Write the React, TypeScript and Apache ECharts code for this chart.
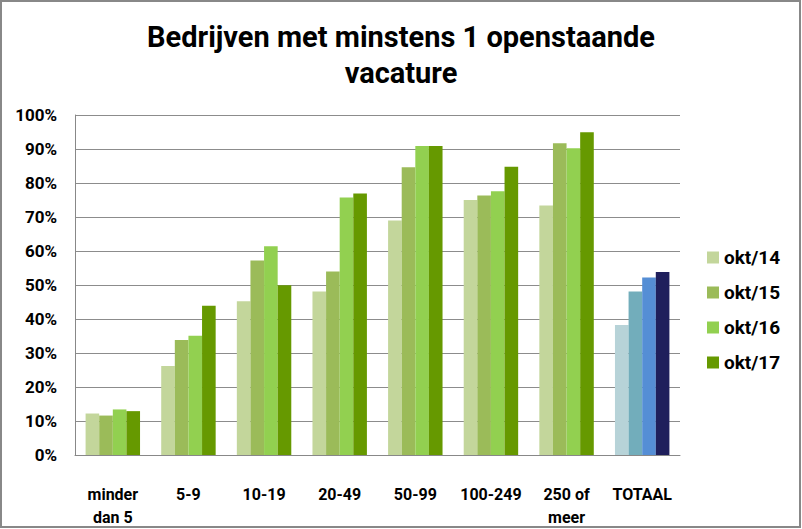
import React, { useEffect, useRef } from "react";
import * as echarts from "echarts";

const categories = ["minder\ndan 5", "5-9", "10-19", "20-49", "50-99", "100-249", "250 of\nmeer", "TOTAAL"];
const seriesNames = ["okt/14", "okt/15", "okt/16", "okt/17"];
const okt14 = [12.2, 26.2, 45.2, 48.1, 69.0, 75.0, 73.4, 38.2];
const okt15 = [11.6, 33.8, 57.2, 54.0, 84.6, 76.3, 91.7, 48.1];
const okt16 = [13.4, 35.1, 61.4, 75.7, 90.9, 77.6, 90.2, 52.2];
const okt17 = [12.9, 43.9, 49.9, 76.9, 90.9, 84.8, 94.9, 53.8];
const greenColors = ["#c3d69b", "#9bbb59", "#92d050", "#669900"];
const totalColors = ["#b7d3d8", "#72adbb", "#558ed5", "#1f1f5c"];
const yTicks = [0, 10, 20, 30, 40, 50, 60, 70, 80, 90, 100];

const FONT = "'Roboto', sans-serif";

export default function App() {
  const ref = useRef<HTMLDivElement>(null);
  useEffect(() => {
    if (!ref.current) return;
    const chart = echarts.init(ref.current, null, { renderer: "svg" });
    const all = [okt14, okt15, okt16, okt17];
    chart.setOption({
      animation: false,
      backgroundColor: "#ffffff",
      title: {
        text: "Bedrijven met minstens 1 openstaande\nvacature",
        left: "center",
        top: 14,
        textStyle: { fontFamily: FONT, fontSize: 29, fontWeight: "bold", color: "#000", lineHeight: 36 },
      },
      graphic: [
        {
          type: "rect",
          shape: { x: 1, y: 1, width: 799, height: 526 },
          style: { fill: "none", stroke: "#888888", lineWidth: 2 },
          silent: true,
        },
      ],
      legend: {
        orient: "vertical",
        left: 702,
        top: 243,
        itemGap: 16,
        itemWidth: 12,
        itemHeight: 12,
        icon: "rect",
        data: seriesNames,
        textStyle: { fontFamily: FONT, fontSize: 19, fontWeight: "bold", color: "#000" },
      },
      grid: { left: 75, right: 122, top: 115, bottom: 73, containLabel: false },
      xAxis: {
        type: "category",
        data: categories,
        axisLine: { show: true, lineStyle: { color: "#888888" } },
        axisTick: { show: false },
        axisLabel: {
          interval: 0,
          margin: 28,
          fontFamily: FONT,
          fontSize: 16,
          fontWeight: "bold",
          color: "#000",
          lineHeight: 23,
          verticalAlign: "top",
        },
      },
      yAxis: {
        type: "value",
        min: 0,
        max: 100,
        interval: 10,
        axisLine: { show: true, lineStyle: { color: "#888888" } },
        axisTick: { show: false },
        splitLine: { show: true, lineStyle: { color: "#8c8c8c", width: 1 } },
        axisLabel: {
          margin: 18,
          formatter: (v: number) => (yTicks.includes(v) ? v + "%" : ""),
          fontFamily: FONT,
          fontSize: 17,
          fontWeight: "bold",
          color: "#000",
        },
      },
      series: seriesNames.map((name, i) => ({
        name,
        type: "bar",
        barGap: "0%",
        barCategoryGap: "28%",
        itemStyle: { color: greenColors[i] },
        data: all[i].map((v, j) =>
          j === categories.length - 1 ? { value: v, itemStyle: { color: totalColors[i] } } : v
        ),
      })),
    });
    return () => chart.dispose();
  }, []);
  return (
    <div
      ref={ref}
      style={{ position: "absolute", left: 0, top: 0, width: 802, height: 529 }}
    />
  );
}
